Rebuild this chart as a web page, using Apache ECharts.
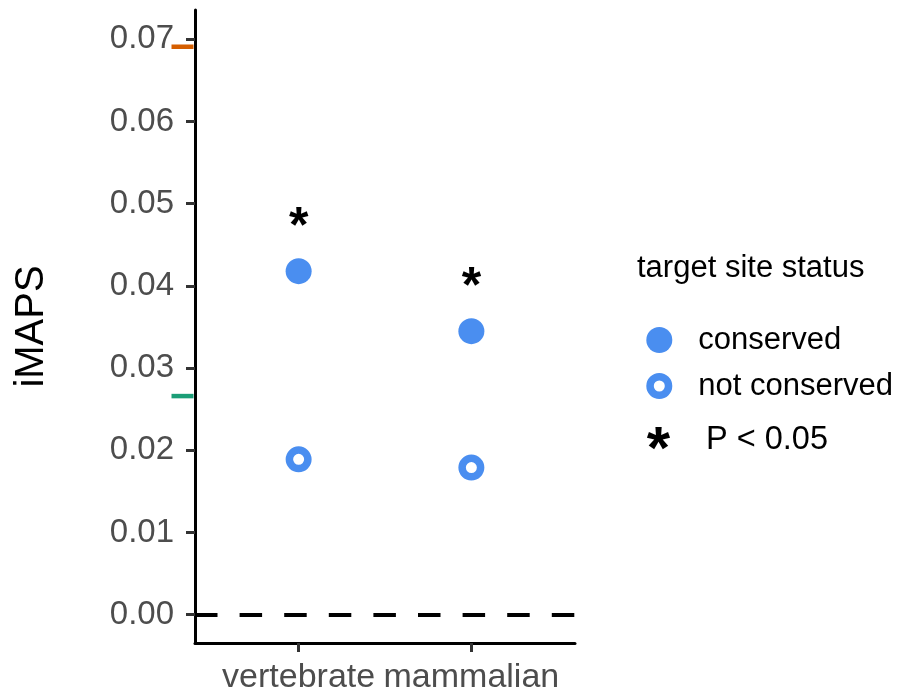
<!DOCTYPE html>
<html><head><meta charset="utf-8">
<script src="https://cdn.jsdelivr.net/npm/echarts@6/dist/echarts.min.js"></script>
<style>html,body{margin:0;padding:0;background:#fff}#c{width:900px;height:692px}</style>
</head><body><div id="c"></div>
<script>
// ---- data ----
const categories = ['vertebrate', 'mammalian'];
const conserved = [0.0418, 0.0345];
const notConserved = [0.0189, 0.0179];
const significance = [0.0482, 0.0409];   // positions of the "*" marks
const vermillionRef = [0.0691];
const greenRef = [0.0266];
const yTicks = [0, 0.01, 0.02, 0.03, 0.04, 0.05, 0.06, 0.07];
const xTicks = [1, 2];

// ---- style ----
const FONT = "'Liberation Sans', Arial, Helvetica, sans-serif";
const BLUE = '#4A8EF0';
const ring = 'path://M0,13 A13,13 0 1,0 26,13 A13,13 0 1,0 0,13 Z M7.5,13 A5.5,5.5 0 1,1 18.5,13 A5.5,5.5 0 1,1 7.5,13 Z';

const pts = arr => arr.map((v, i) => [xTicks[i], v]);

const chart = echarts.init(document.getElementById('c'), null, {renderer: 'canvas'});
chart.setOption({
  animation: false,
  backgroundColor: '#fff',
  textStyle: {fontFamily: FONT},
  grid: {left: 195, right: 325, top: 10, bottom: 49, containLabel: false, outerBoundsMode: 'none'},
  title: {
    text: 'target site status', left: 637, top: 253, padding: 0,
    textStyle: {fontFamily: FONT, fontSize: 31, fontWeight: 'normal', color: '#000'}
  },
  legend: {
    orient: 'vertical', left: 646.3, top: 324.5, padding: 0,
    itemWidth: 26, itemHeight: 26, itemGap: 15, selectedMode: false,
    textStyle: {fontFamily: FONT, fontSize: 31, color: '#000', lineHeight: 31, padding: [0, 0, 0, 21]},
    data: [
      {name: 'conserved', icon: 'circle', itemStyle: {color: BLUE, opacity: 1}},
      {name: 'not conserved', icon: ring, itemStyle: {color: BLUE, borderWidth: 0, opacity: 1}}
    ]
  },
  xAxis: {
    type: 'value', min: 0.4, max: 2.6,
    axisLine: {show: true, onZero: false, lineStyle: {color: '#000', width: 3}},
    axisTick: {show: true, customValues: xTicks, length: 9, lineStyle: {color: '#333', width: 3}},
    axisLabel: {show: true, customValues: xTicks, formatter: v => categories[Math.round(v) - 1],
      fontFamily: FONT, fontSize: 34, color: '#4D4D4D', margin: 18},
    splitLine: {show: false}
  },
  yAxis: {
    type: 'value', min: -0.00344, max: 0.07357,
    name: 'iMAPS', nameLocation: 'middle', nameGap: 143,
    nameTextStyle: {fontFamily: FONT, fontSize: 40, color: '#000'},
    axisLine: {show: true, onZero: false, lineStyle: {color: '#000', width: 3}},
    axisTick: {show: true, customValues: yTicks, length: 9, lineStyle: {color: '#333', width: 3}},
    axisLabel: {show: true, customValues: yTicks, formatter: v => v.toFixed(2),
      fontFamily: FONT, fontSize: 33, color: '#4D4D4D', margin: 21, padding: [6, 0, 0, 0]},
    splitLine: {show: false}
  },
  graphic: [
    {type: 'text', x: 658.5, y: 441 + 10, z: 10,
      style: {text: '*', fontFamily: FONT, fontSize: 60, fontWeight: 'bold', align: 'center', verticalAlign: 'middle', fill: '#000'}},
    {type: 'text', x: 706, y: 440, z: 10,
      style: {text: 'P < 0.05', fontFamily: FONT, fontSize: 32.5, align: 'left', verticalAlign: 'middle', fill: '#000'}}
  ],
  series: [
    {
      name: 'zero', type: 'line', data: [], silent: true,
      markLine: {silent: true, symbol: ['none', 'none'], label: {show: false},
        lineStyle: {type: [22.5, 22.1], width: 4, color: '#000'}, data: [{yAxis: 0}]}
    },
    {
      name: 'ref1', type: 'scatter', clip: false, silent: true, symbol: 'rect',
      symbolSize: [22, 4.5], symbolOffset: [-12.5, 0],
      itemStyle: {color: '#D55E00', opacity: 1}, data: vermillionRef.map(v => [0.4, v])
    },
    {
      name: 'ref2', type: 'scatter', clip: false, silent: true, symbol: 'rect',
      symbolSize: [22, 4.5], symbolOffset: [-12.5, 0],
      itemStyle: {color: '#1B9E77', opacity: 1}, data: greenRef.map(v => [0.4, v])
    },
    {
      name: 'conserved', type: 'scatter', symbol: 'circle', symbolSize: 26,
      itemStyle: {color: BLUE, opacity: 1}, data: pts(conserved)
    },
    {
      name: 'not conserved', type: 'scatter', symbol: 'circle', symbolSize: 18.5,
      itemStyle: {color: '#fff', borderColor: BLUE, borderWidth: 7.5, opacity: 1}, data: pts(notConserved)
    },
    {
      name: 'P < 0.05', type: 'scatter', symbolSize: 0, itemStyle: {color: 'rgba(0,0,0,0)', opacity: 1},
      label: {show: true, position: 'inside', formatter: '*', offset: [0, 10],
        fontFamily: FONT, fontSize: 50, fontWeight: 'bold', color: '#000'},
      data: pts(significance)
    }
  ]
});
</script></body></html>
